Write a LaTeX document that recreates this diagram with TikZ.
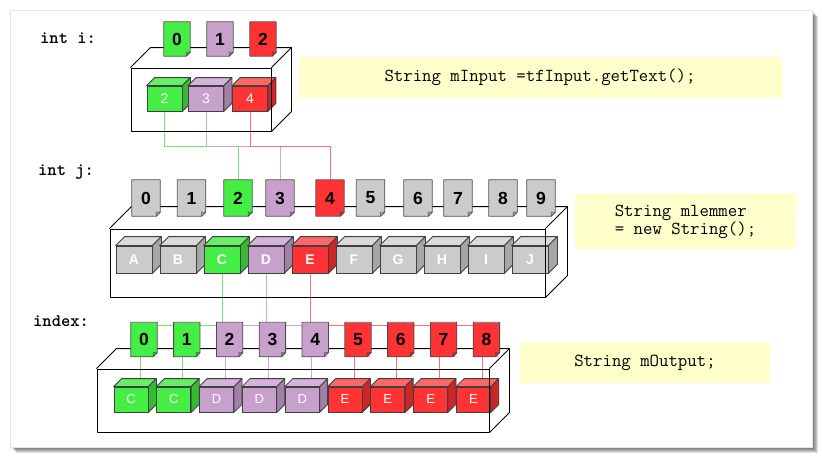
\documentclass[tikz,border=0pt]{standalone}
\usepackage{fontspec}
\setmainfont{Liberation Sans}
\usepackage{tikz}
\definecolor{grnF}{HTML}{44EE44}
\definecolor{grnT}{HTML}{66EE66}
\definecolor{grnS}{HTML}{33BB33}
\definecolor{grnL}{HTML}{77E077}
\definecolor{purF}{HTML}{C8A0CC}
\definecolor{purT}{HTML}{D4B4D8}
\definecolor{purS}{HTML}{A080A4}
\definecolor{purL}{HTML}{CCA8D4}
\definecolor{redF}{HTML}{FF3333}
\definecolor{redT}{HTML}{FF6666}
\definecolor{redS}{HTML}{CC2626}
\definecolor{redL}{HTML}{FF7070}
\definecolor{gryF}{HTML}{CBCBCB}
\definecolor{gryT}{HTML}{DADADA}
\definecolor{gryS}{HTML}{A6A6A6}
\definecolor{noteY}{HTML}{FFFFCC}
\tikzstyle{tagbox} = [rectangle, inner sep=0pt, minimum width=26pt, minimum height=34pt, font=\bfseries\fontsize{17.5}{17.5}\selectfont]
\tikzstyle{tagline} = [draw=black!70, line width=0.8pt, line join=round]
\tikzstyle{cubeface} = [rectangle, draw=black!75, line width=0.8pt, inner sep=0pt, text=white]
\tikzstyle{cubeedge} = [draw=black!75, line width=0.8pt, line join=round]
\tikzstyle{crate} = [draw=black, line width=0.9pt, line join=round]
\tikzstyle{note} = [rectangle, fill=noteY, inner sep=0pt, align=left, font=\ttfamily\fontsize{18.3}{18}\selectfont]
\tikzstyle{varlabel} = [anchor=base west, inner sep=0pt, font=\ttfamily\bfseries\fontsize{17.7}{18}\selectfont]
\tikzstyle{link} = [line width=0.9pt]
\pgfdeclarelayer{paper}
\pgfdeclarelayer{background}
\pgfsetlayers{paper,background,main}
\newcommand{\idxtag}[4]{%
  \node (#1) [tagbox, fill=#3F] at (#2) {#4};
  \fill [white] (#1.south east) -- ++(-4,0) -- ++(4,-4) -- cycle;
  \draw [tagline] (#1.north west) -- (#1.north east) -- ([yshift=4pt]#1.south east) -- ([xshift=-4pt]#1.south east) -- (#1.south west) -- cycle;
  \filldraw [tagline, fill=#3S, line width=0.5pt] ([xshift=-4pt]#1.south east) -- ++(0,-4) -- ++(4,0) -- cycle;
}
\newcommand{\cube}[5]{%
  \node (#1) [cubeface, fill=#3F] at (#2) {#4};
  \filldraw [cubeedge, fill=#3T] (#1.north west) -- ++(#5,-#5) -- ([shift={(#5,-#5)}]#1.north east) -- (#1.north east) -- cycle;
  \filldraw [cubeedge, fill=#3S] (#1.north east) -- ++(#5,-#5) -- ([shift={(#5,-#5)}]#1.south east) -- (#1.south east) -- cycle;
}
\newcommand{\boxback}[2]{%
  \draw [crate] (#1.north west) -- ++(#2,-#2) -- ([shift={(#2,-#2)}]#1.north east) -- ([shift={(#2,-#2)}]#1.south east) -- (#1.south east);
  \draw [crate] (#1.north east) -- ++(#2,-#2);
}

\begin{document}
\begin{tikzpicture}[x=1pt, y=-1pt]
	\useasboundingbox (0,0) rectangle (822,458);
	\begin{pgfonlayer}{paper}
		\fill [white] (0,0) rectangle (822,458);
		\foreach \s in {1,...,6}
			\fill [black, opacity=0.12] (10+\s,10+\s) rectangle (812+\s,447+\s);
		\fill [white] (10,10) rectangle (812,447);
		\draw [black!10] (10,10) rectangle (812,447);
	\end{pgfonlayer}

	\node (lblI) [varlabel] at (40,43) {int i:};
	\node (lblJ) [varlabel] at (38,175) {int j:};
	\node (lblK) [varlabel] at (33,326) {index:};

	\node (noteI) [note, minimum width=483pt, minimum height=41pt] at (540,77.5) {String mInput =tfInput.getText();};
	\node (noteJ) [note, minimum width=221pt, minimum height=55pt] at (685.5,221.5) {String mlemmer\\= new String();};
	\node (noteK) [note, minimum width=250pt, minimum height=41pt] at (645,362.5) {String mOutput;};

	\begin{scope}[cubeface/.append style={minimum width=35pt, minimum height=25pt, font=\fontsize{14}{14}\selectfont}]
		\cube{ci2}{164.5,98.5}{grn}{2}{8}
		\cube{ci3}{206,98.5}{pur}{3}{8}
		\cube{ci4}{250,98.5}{red}{4}{8}
	\end{scope}
	\node (boxI) [rectangle, crate, inner sep=0pt, minimum width=140pt, minimum height=63pt] at (201,99.5) {};
	\boxback{boxI}{20}
	\idxtag{i0}{177,39}{grn}{0}
	\idxtag{i1}{220,39}{pur}{1}
	\idxtag{i2}{263,39}{red}{2}

	\begin{scope}[cubeface/.append style={minimum width=36pt, minimum height=27pt, font=\bfseries\fontsize{14}{14}\selectfont}]
		\foreach \n/\l/\c in {0/A/gry, 1/B/gry, 2/C/grn, 3/D/pur, 4/E/red, 5/F/gry, 6/G/gry, 7/H/gry, 8/I/gry, 9/J/gry}
		{
			\pgfmathsetmacro{\x}{134+44*\n}
			\cube{cj\n}{\x,259.5}{\c}{\l}{9}
		}
	\end{scope}
	\node (boxJ) [rectangle, crate, inner sep=0pt, minimum width=435pt, minimum height=68pt] at (327.5,263) {};
	\boxback{boxJ}{22}
	\begin{scope}[tagbox/.append style={minimum width=28pt, minimum height=36pt}]
		\foreach \n/\x/\c in {0/146/gry, 1/191.5/gry, 2/238/grn, 3/280/pur, 4/330/red, 5/370.5/gry, 6/418/gry, 7/458/gry, 8/503/gry, 9/541/gry}
		{
			\idxtag{j\n}{\x,198}{\c}{\n}
		}
	\end{scope}

	\begin{scope}[cubeface/.append style={minimum width=34pt, minimum height=25pt, font=\fontsize{13}{13}\selectfont}]
		\foreach \n/\l/\c in {0/C/grn, 1/C/grn, 2/D/pur, 3/D/pur, 4/D/pur, 5/E/red, 6/E/red, 7/E/red, 8/E/red}
		{
			\pgfmathsetmacro{\x}{131+42.8*\n}
			\cube{cb\n}{\x,399.5}{\c}{\l}{8}
		}
	\end{scope}
	\node (boxK) [rectangle, crate, inner sep=0pt, minimum width=392pt, minimum height=63pt] at (293,400.5) {};
	\boxback{boxK}{20}
	\foreach \n/\c in {0/grn, 1/grn, 2/pur, 3/pur, 4/pur, 5/red, 6/red, 7/red, 8/red}
	{
		\pgfmathsetmacro{\x}{144+42.8*\n}
		\idxtag{k\n}{\x,339.5}{\c}{\n}
	}

	\begin{pgfonlayer}{background}
		\coordinate (busI) at (0,146);
		\draw [link, draw=grnL] (ci2.south) |- (j2.north |- busI) -- (j2.north);
		\draw [link, draw=purL] (ci3.south) |- (j3.north |- busI) -- (j3.north);
		\draw [link, draw=redL] (ci4.south) |- (j4.north |- busI) -- (j4.north);

		\coordinate (busK) at (0,325);
		\draw [link, draw=grnL] (cj2.south) |- (k0.north |- busK);
		\draw [link, draw=purL] (k2.north |- busK) -- (k4.north |- busK);
		\draw [link, draw=purL] (cj3.south) -- (cj3.south |- busK);
		\draw [link, draw=redL] (cj4.south) |- (k8.north |- busK);
		\foreach \n/\c in {0/grn, 1/grn, 2/pur, 3/pur, 4/pur, 5/red, 6/red, 7/red, 8/red}
		{
			\draw [link, draw=\c L] ([xshift=-4pt]k\n.south) -- ([xshift=9pt]cb\n.north);
		}
	\end{pgfonlayer}
\end{tikzpicture}
\end{document}
